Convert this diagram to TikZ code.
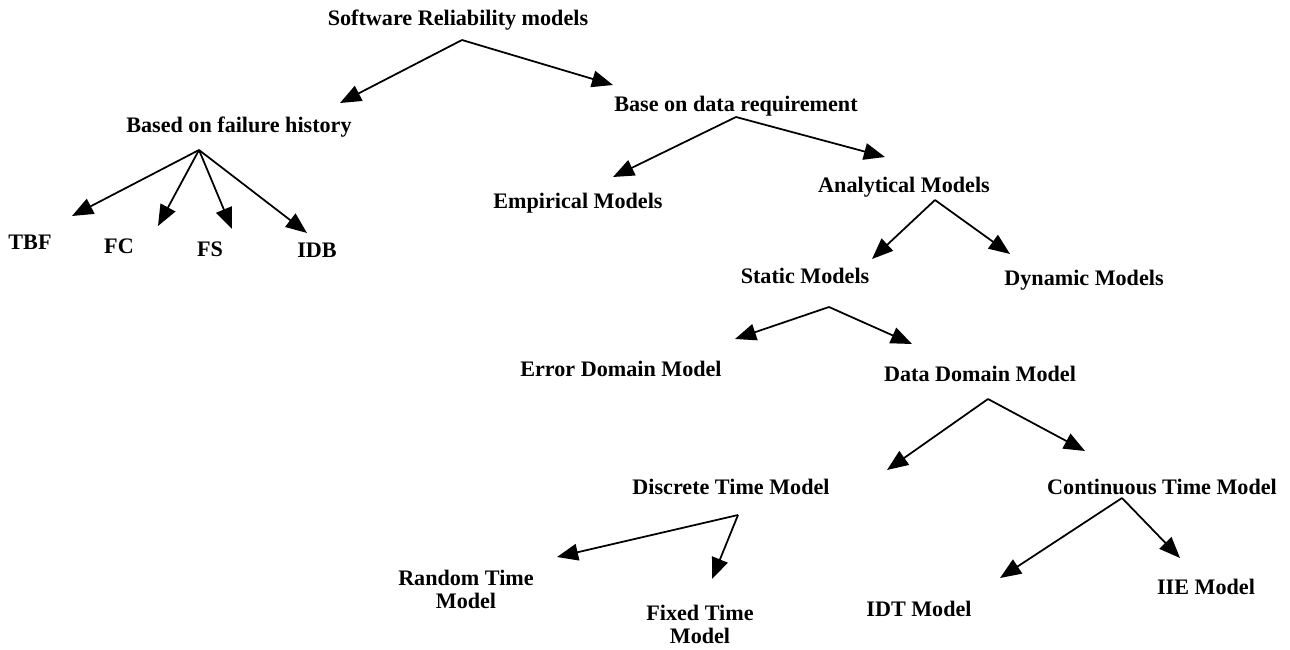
\documentclass[tikz,border=0pt]{standalone}
\usepackage{fontspec}
\setmainfont{Liberation Serif}
\usetikzlibrary{arrows.meta}
\tikzset{
	>={Triangle[length=12pt,width=9.5pt]},
	lbl/.style={font=\fontsize{12.6}{13}\selectfont\bfseries,inner sep=1pt,align=center},
	br/.style={->,line width=1pt}
}
\begin{document}
\begin{tikzpicture}[x=0.02cm,y=-0.02cm]
	%\draw[step=50,gray!20] (0,0) grid (1290,649); %Hilfsgitter
	\useasboundingbox (0,0) rectangle (1290,649);
	\node[lbl] (SRM) at (458,20) {Software Reliability models};
	\node[lbl] (BFH) at (239,127) {Based on failure history}; \node[lbl] (BDR) at (736,106) {Base on data requirement};
	\node[lbl] (TBF) at (30,242) {TBF}; \node[lbl] (FC) at (119,246) {FC}; \node[lbl] (FS) at (210,249) {FS}; \node[lbl] (IDB) at (317,250) {IDB};
	\node[lbl] (EM) at (578,203) {Empirical Models}; \node[lbl] (AM) at (904,187) {Analytical Models};
	\node[lbl] (SM) at (805,276) {Static Models}; \node[lbl] (DM) at (1084,280) {Dynamic Models};
	\node[lbl] (EDM) at (621,369) {Error Domain Model}; \node[lbl] (DDM) at (980,374) {Data Domain Model};
	\node[lbl] (DTM) at (731,487) {Discrete Time Model}; \node[lbl] (CTM) at (1162,487) {Continuous Time Model};
	\node[lbl] (RTM) at (466,589) {Random Time\\Model}; \node[lbl] (FTM) at (700,624) {Fixed Time\\Model};
	\node[lbl] (IDT) at (919,609) {IDT Model}; \node[lbl] (IIE) at (1206,587) {IIE Model};
	
	% Verzweigungspunkte und Pfeilspitzen
	\coordinate (SRM-s) at (462,40); \coordinate (BFH-s) at (199,150); \coordinate (BDR-s) at (736,117);
	\coordinate (AM-s) at (935,200); \coordinate (SM-s) at (829,307); \coordinate (DDM-s) at (988,399);
	\coordinate (DTM-s) at (738,515); \coordinate (CTM-s) at (1122,498);
	\coordinate (BFH-n) at (340,103); \coordinate (BDR-n) at (613,85);
	\coordinate (TBF-n) at (72,216); \coordinate (FC-n) at (158,226); \coordinate (FS-n) at (232,229); \coordinate (IDB-n) at (307,233);
	\coordinate (EM-n) at (613,177); \coordinate (AM-n) at (885,157);
	\coordinate (SM-n) at (872,259); \coordinate (DM-n) at (1010,254);
	\coordinate (EDM-n) at (735,339); \coordinate (DDM-n) at (912,344);
	\coordinate (DTM-n) at (887,470); \coordinate (CTM-n) at (1085,451);
	\coordinate (RTM-n) at (557,557); \coordinate (FTM-n) at (712,579);
	\coordinate (IDT-n) at (1000,578); \coordinate (IIE-n) at (1180,558);
	
	\draw[br] (SRM-s) -- (BFH-n); \draw[br] (SRM-s) -- (BDR-n);
	\foreach \c in {TBF,FC,FS,IDB} \draw[br] (BFH-s) -- (\c-n);
	\draw[br] (BDR-s) -- (EM-n); \draw[br] (BDR-s) -- (AM-n);
	\draw[br] (AM-s) -- (SM-n); \draw[br] (AM-s) -- (DM-n);
	\draw[br] (SM-s) -- (EDM-n); \draw[br] (SM-s) -- (DDM-n);
	\draw[br] (DDM-s) -- (DTM-n); \draw[br] (DDM-s) -- (CTM-n);
	\draw[br] (DTM-s) -- (RTM-n); \draw[br] (DTM-s) -- (FTM-n);
	\draw[br] (CTM-s) -- (IDT-n); \draw[br] (CTM-s) -- (IIE-n);
\end{tikzpicture}
\end{document}
